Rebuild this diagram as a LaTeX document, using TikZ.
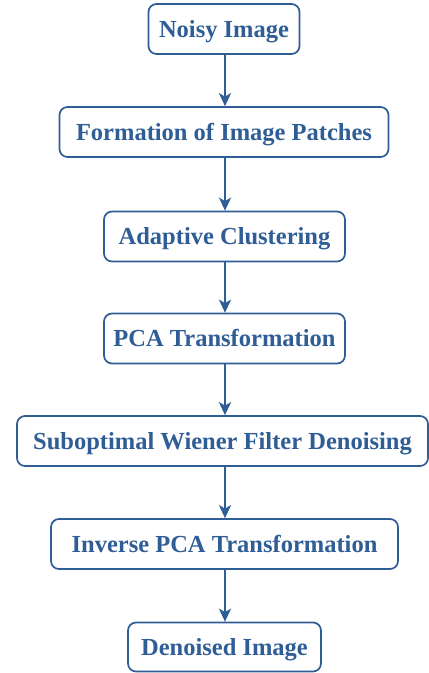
\documentclass[tikz,border=0pt]{standalone}
\usepackage{fontspec}
\setmainfont{Liberation Serif}
\usetikzlibrary{arrows.meta}
\definecolor{flowblue}{HTML}{2F5D96}
\begin{document}
\begin{tikzpicture}[x=1pt,y=-1pt,
  stage/.style={draw=flowblue, line width=1.7pt, rounded corners=8pt, fill=white,
    inner sep=0pt, minimum height=50pt, text=flowblue,
    text height=16pt, text depth=0pt,
    font=\fontsize{24.5}{27}\selectfont\bfseries},
  flow/.style={draw=flowblue, line width=2.4pt, -{Stealth[length=13pt,width=12pt,inset=3.5pt]}}]
\useasboundingbox (0,0) rectangle (429,673);
\node[stage, minimum width=151pt] (n1) at (224,29) {Noisy Image};
\node[stage, minimum width=329pt] (n2) at (224,132) {Formation of Image Patches};
\node[stage, minimum width=241pt] (n3) at (224.5,236.5) {Adaptive Clustering};
\node[stage, minimum width=241pt] (n4) at (224.5,338.5) {PCA Transformation};
\node[stage, minimum width=411pt] (n5) at (222.5,441) {Suboptimal Wiener Filter Denoising};
\node[stage, minimum width=347pt] (n6) at (224.5,544) {Inverse PCA Transformation};
\node[stage, minimum width=193pt, minimum height=49pt] (n7) at (224.5,647) {Denoised Image};
\foreach \a/\b in {n1/n2,n2/n3,n3/n4,n4/n5,n5/n6,n6/n7}
  \draw[flow] (\a.south -| 225,0) -- (\b.north -| 225,0);
\end{tikzpicture}
\end{document}
